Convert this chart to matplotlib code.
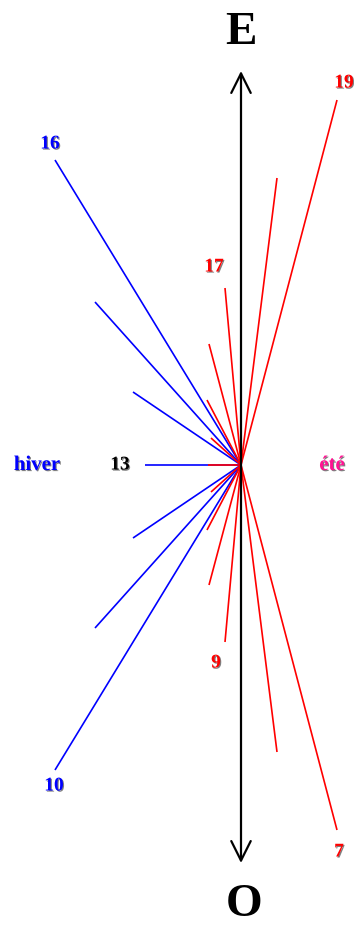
import matplotlib
matplotlib.use("Agg")
import matplotlib.pyplot as plt
import matplotlib.patheffects as pe

# shadow tips relative to the foot of the gnomon (x: towards left/right, y: towards E)
winter_hours = [10, 11, 12, 13, 14, 15, 16]
winter_dx = [-186, -146, -108, -96, -108, -146, -186]
winter_dy = [-305, -163, -73, 0, 73, 163, 305]

summer_hours = [7, 8, 9, 10, 11, 12, 13, 14, 15, 16, 17, 18, 19]
summer_dx = [96, 36, -16, -32, -34, -30, -33, -30, -34, -32, -16, 36, 96]
summer_dy = [-365, -287, -177, -120, -65, -27, 0, 27, 65, 121, 177, 287, 365]

winter_labels = [10, 13, 16]
summer_labels = [7, 9, 17, 19]

fig = plt.figure(figsize=(3.54, 9.26), dpi=100)
ax = fig.add_axes([0, 0, 1, 1])
ax.set_xlim(-241, 113)
ax.set_ylim(-461, 465)
ax.axis("off")

serif = ["Liberation Serif", "DejaVu Serif"]
shadow = [pe.withSimplePatchShadow(offset=(0.8, -0.8), shadow_rgbFace="black", alpha=0.5)]

# E-O axis
ax.annotate("", xy=(0, 394), xytext=(0, -398),
            arrowprops=dict(arrowstyle="<->,head_length=0.7,head_width=0.35",
                            mutation_scale=20, lw=1.6, color="black",
                            shrinkA=0, shrinkB=0))

for dx, dy in zip(winter_dx, winter_dy):
    ax.plot([0, dx], [0, dy], color="blue", lw=1.2, solid_capstyle="butt")
for dx, dy in zip(summer_dx, summer_dy):
    ax.plot([0, dx], [0, dy], color="red", lw=1.2, solid_capstyle="butt")

# hour labels
offsets = {("w", 10): (-1, -16), ("w", 13): (-25, 0), ("w", 16): (-5, 16),
           ("s", 7): (2, -22), ("s", 9): (-9, -21), ("s", 17): (-11, 21), ("s", 19): (7, 17)}
for h in winter_labels:
    i = winter_hours.index(h)
    ox, oy = offsets[("w", h)]
    col = "black" if h == 13 else "blue"
    ax.text(winter_dx[i] + ox, winter_dy[i] + oy, str(h), color=col, fontsize=14,
            fontweight="bold", family=serif, ha="center", va="center", path_effects=shadow)
for h in summer_labels:
    i = summer_hours.index(h)
    ox, oy = offsets[("s", h)]
    ax.text(summer_dx[i] + ox, summer_dy[i] + oy, str(h), color="red", fontsize=14,
            fontweight="bold", family=serif, ha="center", va="center", path_effects=shadow)

ax.text(-204, 0, "hiver", color="blue", fontsize=15, fontweight="bold", family=serif,
        ha="center", va="center", path_effects=shadow)
ax.text(91, 0, "été", color="deeppink", fontsize=15, fontweight="bold", family=serif,
        ha="center", va="center", path_effects=shadow)

ax.text(0, 432, "E", fontsize=34, fontweight="bold", family=serif, ha="center", va="center")
ax.text(3, -440, "O", fontsize=34, fontweight="bold", family=serif, ha="center", va="center")

fig.savefig("out.png", dpi=100)
